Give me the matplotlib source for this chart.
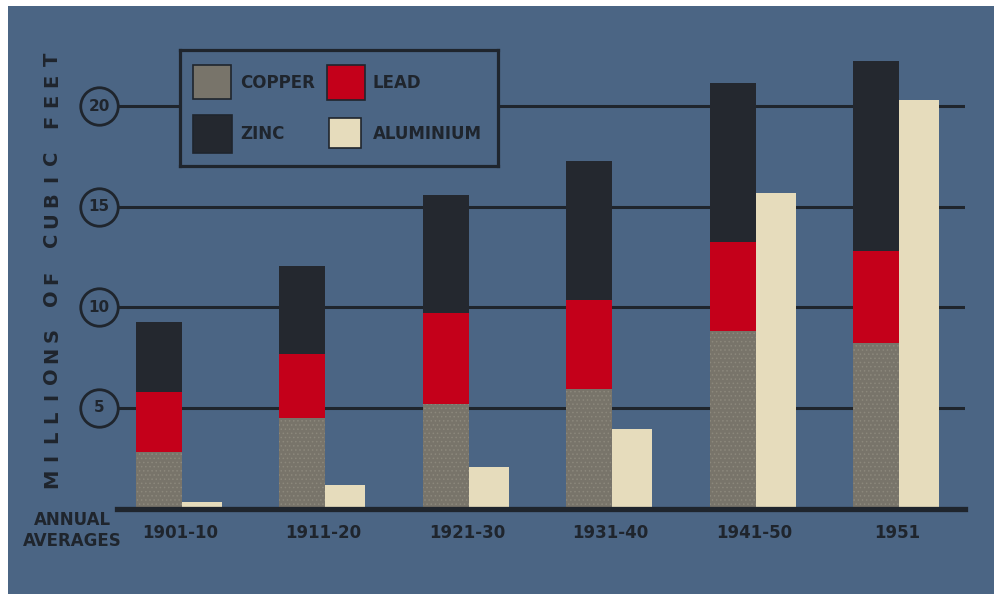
import matplotlib
matplotlib.use("Agg")
import matplotlib.pyplot as plt
from matplotlib.patches import Rectangle

# annual averages, millions of cubic feet
periods = ["1901-10", "1911-20", "1921-30", "1931-40", "1941-50", "1951"]
copper = [2.8, 4.5, 5.2, 5.95, 8.8, 8.25]
lead = [2.97, 3.2, 4.5, 4.4, 4.45, 4.55]
zinc = [3.5, 4.35, 5.9, 6.9, 7.9, 9.45]
aluminium = [0.3, 1.15, 2.05, 3.95, 15.7, 20.3]
y_marks = [5, 10, 15, 20]
y_caption = "MILLIONS OF CUBIC FEET"

BG = "#4b6584"
DARK = "#1f252d"
C_COPPER = "#78746a"
C_COPPER_GRAIN = "#8c887c"
C_LEAD = "#c4001a"
C_ZINC = "#24282f"
C_ALU = "#e6dcbc"

W, H = 994, 594

plt.rcParams["hatch.linewidth"] = 0.6


def px(left, top, width, height):
    # pixel box (from top-left) -> figure fraction rect
    return [left / W, 1 - (top + height) / H, width / W, height / H]


fig = plt.figure(figsize=(W / 100, H / 100), dpi=100)
fig.patch.set_facecolor("white")
fig.add_artist(Rectangle((8 / W, 0), 1 - 8 / W, 1 - 6 / H,
                         transform=fig.transFigure, fc=BG, ec="none", zorder=0))

unit = 20.12
ax = fig.add_axes(px(117, 508.5 - 24 * unit, 848, 24 * unit))
ax.set_facecolor("none")
ax.set_xlim(-0.44, 5.47)
ax.set_ylim(0, 24)
for s in ax.spines.values():
    s.set_visible(False)

x = list(range(len(periods)))

# grid lines and circled scale values
ax.hlines(y_marks, -0.44, 5.47, color=DARK, lw=2.2, zorder=1)
ax.plot([-0.565] * len(y_marks), y_marks, "o", ms=27, mfc=BG, mec=DARK,
        mew=2, clip_on=False, zorder=3)
for v in y_marks:
    ax.text(-0.565, v, str(v), ha="center", va="center", fontsize=11,
            fontweight="bold", color=DARK, zorder=4)

# stacked bars: copper, lead, zinc; aluminium beside them
xs = [i - 0.31 for i in x]
lead_base = copper
zinc_base = [c + l for c, l in zip(copper, lead)]
ax.bar(xs, copper, width=0.32, align="edge", color=C_COPPER,
       edgecolor=C_COPPER_GRAIN, hatch="....", linewidth=0, zorder=2)
ax.bar(xs, lead, width=0.32, bottom=lead_base, align="edge", color=C_LEAD, zorder=2)
ax.bar(xs, zinc, width=0.32, bottom=zinc_base, align="edge", color=C_ZINC, zorder=2)
ax.bar([i + 0.01 for i in x], aluminium, width=0.28, align="edge",
       color=C_ALU, zorder=2)

ax.axhline(0, color=DARK, lw=3.8, clip_on=False, zorder=5)

ax.set_yticks([])
ax.set_xticks(x)
ax.set_xticklabels(periods, fontsize=12, fontweight="bold", color=DARK)
ax.tick_params(axis="x", length=0, pad=11)

# letter-spaced vertical caption
step = 20.5
ypos = 478
for ch in y_caption:
    if ch == " ":
        ypos -= 0.8 * step
        continue
    fig.text(52 / W, 1 - ypos / H, ch, rotation=90, ha="center",
             va="center", fontsize=14, fontweight="bold", color=DARK)
    ypos -= step

fig.text(72 / W, 1 - 520 / H, "ANNUAL", ha="center", va="center",
         fontsize=12, fontweight="bold", color=DARK)
fig.text(72 / W, 1 - 541 / H, "AVERAGES", ha="center", va="center",
         fontsize=12, fontweight="bold", color=DARK)

# legend box
lg = fig.add_axes(px(180, 50, 318, 116))
lg.set_facecolor(BG)
lg.set_xlim(0, 318)
lg.set_ylim(116, 0)
lg.set_xticks([])
lg.set_yticks([])
for s in lg.spines.values():
    s.set_color(DARK)
    s.set_linewidth(2.3)

entries = [
    ("COPPER", C_COPPER, (13, 15, 38, 34), (60, 33)),
    ("LEAD", C_LEAD, (147, 15, 38, 35), (193, 33)),
    ("ZINC", C_ZINC, (13, 65, 39, 38), (60, 84)),
    ("ALUMINIUM", C_ALU, (149, 68, 32, 30), (193, 84)),
]
for name, col, (rx, ry, rw, rh), (tx, ty) in entries:
    lg.add_patch(Rectangle((rx, ry), rw, rh, fc=col, ec=DARK, lw=1.2))
    lg.text(tx, ty, name, ha="left", va="center", fontsize=12,
            fontweight="bold", color=DARK)

fig.savefig("out.png", dpi=100)
